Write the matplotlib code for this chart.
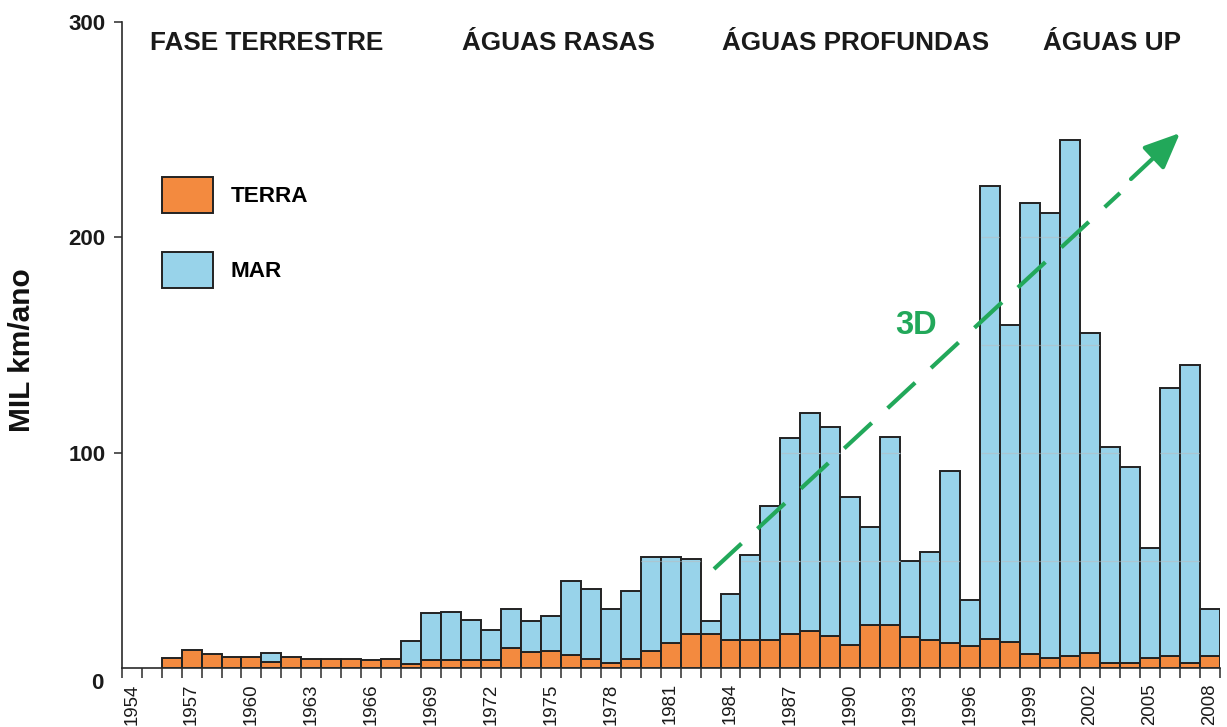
import matplotlib
matplotlib.use('Agg')
import matplotlib.pyplot as plt
import numpy as np
from matplotlib.patches import Patch, FancyArrowPatch

# ---------------- data ----------------
years = list(range(1954, 2009))
terra = [0, 0, 4.6, 8.4, 6.8, 5.1, 5.2, 3.1, 5.1, 4.5,
         4.5, 4.5, 3.7, 4.5, 2.0, 3.7, 3.7, 3.9, 3.9, 9.4,
         7.6, 8.2, 6.2, 4.4, 2.3, 4.4, 7.9, 11.8, 16.0, 16.0,
         13.3, 13.3, 13.3, 16.1, 17.2, 15.2, 10.7, 20.3, 20.1, 14.6,
         13.3, 11.8, 10.2, 13.8, 12.1, 6.7, 4.8, 5.9, 7.1, 2.4,
         2.4, 4.8, 5.9, 2.4, 5.9]
mar = [0, 0, 0, 0, 0, 0, 0, 4.2, 0, 0,
       0, 0, 0, 0, 10.7, 21.8, 22.6, 18.4, 13.7, 18.0,
       14.5, 16.3, 34.4, 32.3, 25.3, 31.4, 43.8, 39.9, 34.8, 6.1,
       21.3, 39.2, 61.9, 90.7, 101.2, 96.9, 68.7, 45.4, 87.1, 35.4,
       40.7, 79.8, 21.6, 210.3, 147.4, 209.1, 206.5, 239.5, 148.5, 100.2,
       91.0, 51.1, 124.1, 138.3, 21.5]
label_years = list(range(1954, 2009, 3))
y_ticks = [100, 200, 300]
grid_levels = [50, 100, 150, 200, 250]
phase_titles = ["FASE TERRESTRE", "ÁGUAS RASAS", "ÁGUAS PROFUNDAS", "ÁGUAS UP"]
phase_x_px = [150, 462, 722, 1043]
series_names = ["TERRA", "MAR"]
trend_label = "3D"

# ---------------- style ----------------
ORANGE = '#F38A3F'
BLUE = '#98D3EA'
EDGE = '#222222'
GREEN = '#22A85A'
FONT = 'Liberation Sans'
plt.rcParams['font.family'] = [FONT, 'DejaVu Sans']

W, H = 1227, 727
fig = plt.figure(figsize=(W / 100, H / 100), dpi=100)
ax_left, ax_right, ax_bottom, ax_top = 121.7, 1219.5, 668.3, 22.0
ax = fig.add_axes([ax_left / W, 1 - ax_bottom / H, (ax_right - ax_left) / W, (ax_bottom - ax_top) / H])

x = np.array(years, dtype=float)
t = np.array(terra)
m = np.array(mar)
tot = t + m

mt = t > 0
ax.bar(x[mt], t[mt], width=1.0, color=ORANGE, edgecolor=EDGE, linewidth=1.4, zorder=2)
mm = m > 0
ax.bar(x[mm], m[mm], bottom=t[mm], width=1.0, color=BLUE, edgecolor=EDGE, linewidth=1.4, zorder=2)

# faint grid lines visible only inside the bars
for xi, ti in zip(x, tot):
    lv = [g for g in grid_levels if g < ti]
    if lv:
        ax.hlines(lv, xi - 0.47, xi + 0.47, colors='#aac6d2', linewidth=0.9, zorder=2.5)

ax.set_xlim(1953.5, 2008.5)
ax.set_ylim(0, 300)

for s in ['top', 'right']:
    ax.spines[s].set_visible(False)
for s in ['left', 'bottom']:
    ax.spines[s].set_linewidth(1.2)
    ax.spines[s].set_color('#2a2a2a')

ax.set_yticks(y_ticks)
ax.set_yticklabels([str(v) for v in y_ticks], fontsize=16, fontweight='bold', color='#1a1a1a')
ax.tick_params(axis='y', length=5.8, width=1.1, pad=5.8, color='#2a2a2a')

ax.set_xticks(label_years)
ax.set_xticklabels([str(v) for v in label_years], rotation=90, fontsize=13.4, color='#1a1a1a')
ax.set_xticks(np.arange(1953.5, 2009.0, 1.0), minor=True)
ax.tick_params(axis='x', which='major', length=0, pad=10.8)
ax.tick_params(axis='x', which='minor', length=7.2, width=1.1, color='#2a2a2a')

# "0" label below the baseline
fig.text(103 / W, 1 - 689.3 / H, '0', ha='right', va='baseline', fontsize=16,
         fontweight='bold', color='#1a1a1a')

# y axis label
fig.text(22 / W, 1 - 350 / H, 'MIL km/ano', rotation=90, ha='center', va='center',
         fontsize=21.5, fontweight='bold', color='#111111')

# phase titles
for txt, px in zip(phase_titles, phase_x_px):
    fig.text(px / W, 1 - 50.5 / H, txt, ha='left', va='baseline', fontsize=18.8,
             fontweight='bold', color='#1a1a1a')

# legend
handles = [Patch(facecolor=ORANGE, edgecolor=EDGE, linewidth=1.4, label=series_names[0]),
           Patch(facecolor=BLUE, edgecolor=EDGE, linewidth=1.4, label=series_names[1])]
leg = ax.legend(handles=handles, loc='upper left', bbox_to_anchor=(162 / W, 1 - 177 / H),
                bbox_transform=fig.transFigure, frameon=False, borderpad=0, borderaxespad=0,
                handlelength=2.25, handleheight=2.08, labelspacing=1.72, handletextpad=0.8,
                prop={'family': FONT, 'weight': 'bold', 'size': 16.2})

# trend arrow (annotation, pixel -> data)
def px2data(px, py):
    xd = 1953.5 + (px - ax_left) / ((ax_right - ax_left) / 55.0)
    yd = (ax_bottom - py) / ((ax_bottom - ax_top) / 300.0)
    return xd, yd

x0, y0 = px2data(714, 569)
x1, y1 = px2data(1120, 193)
x2, y2 = px2data(1131, 179)
x3, y3 = px2data(1180, 133)
ax.plot([x0, x1], [y0, y1], color=GREEN, linewidth=3, dashes=(9, 5.2),
        dash_capstyle='butt', zorder=4, clip_on=False)
arr = FancyArrowPatch((x2, y2), (x3, y3), arrowstyle='-|>,head_length=1.1,head_width=0.48',
                      mutation_scale=20, color=GREEN, linewidth=3, zorder=4, clip_on=False,
                      shrinkA=0, shrinkB=0)
ax.add_patch(arr)
tx, ty = px2data(916, 326)
ax.text(tx, ty, trend_label, ha='center', va='center', fontsize=23.5, fontweight='bold',
        color=GREEN, zorder=5)

fig.savefig('out.png', dpi=100)
